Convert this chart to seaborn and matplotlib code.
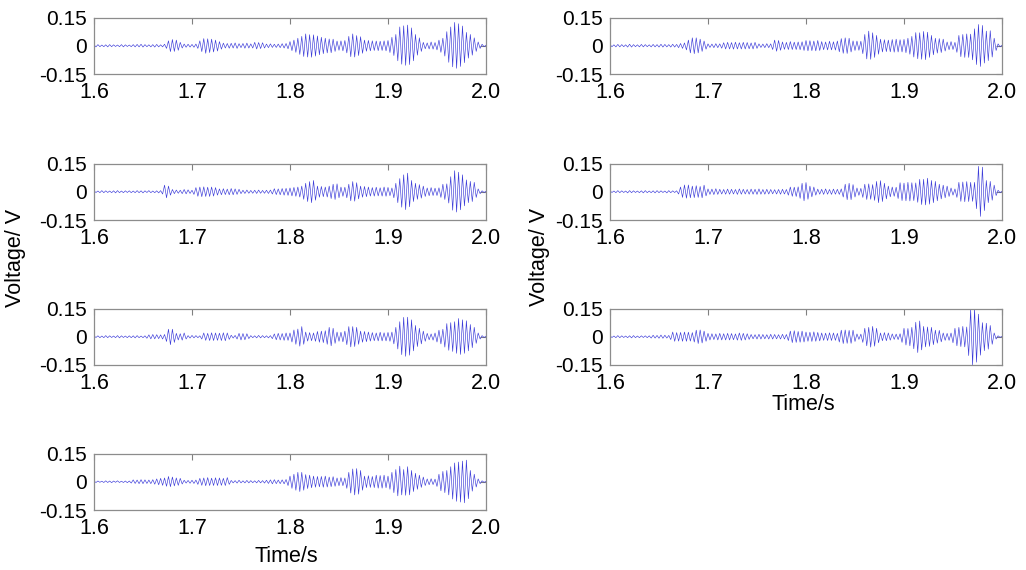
import numpy as np
import matplotlib
matplotlib.use("Agg")
import matplotlib.pyplot as plt
import seaborn as sns

# signal peaks in mV, one value every 2 ms from 1.6 s to 2.0 s
ch1 = [5, -6, 6, -5, 4, -5, 5, -6, 6, -5, 5, -4, 4, -5, 6, -6, 5, -4, 4, -5,
       6, -6, 7, -6, 8, -7, 6, -5, 5, -6, 6, -7, 7, -6, 5, -6, 8, -14, 26, -31,
       33, -30, 30, -24, 18, -12, 9, -8, 8, -7, 7, -8, 9, -14, 26, -31, 38, -40, 37, -36,
       35, -33, 30, -28, 22, -18, 14, -12, 12, -13, 13, -12, 15, -14, 11, -10, 12, -13, 14, -12,
       10, -12, 18, -17, 17, -15, 16, -12, 9, -10, 10, -9, 8, -9, 9, -10, 11, -12, 12, -16,
       22, -26, 30, -35, 40, -46, 50, -57, 63, -60, 59, -61, 58, -55, 52, -48, 45, -42, 40, -38,
       36, -37, 35, -30, 25, -24, 26, -27, 28, -38, 50, -58, 63, -60, 54, -52, 48, -40, 30, -29,
       28, -27, 26, -25, 25, -26, 24, -25, 26, -27, 28, -36, 45, -52, 60, -80, 100, -98, 106, -104,
       110, -100, 95, -80, 60, -50, 42, -30, 18, -16, 15, -17, 20, -18, 17, -22, 30, -35, 40, -55,
       75, -88, 100, -112, 124, -120, 117, -110, 105, -90, 71, -66, 60, -50, 42, -30, 20, -14, 8, -5,
       3]
ch2 = [5, -4, 4, -5, 6, -5, 5, -4, 4, -5, 5, -6, 6, -5, 4, -5, 5, -4, 5, -5,
       4, -5, 6, -5, 5, -6, 5, -4, 6, -5, 4, -5, 5, -6, 6, -12, 35, -32, 30, -18,
       12, -10, 9, -8, 8, -10, 12, -11, 10, -9, 8, -14, 22, -24, 25, -26, 26, -25, 24, -25,
       25, -23, 22, -18, 15, -16, 16, -15, 14, -16, 17, -16, 15, -14, 13, -10, 8, -9, 9, -8,
       7, -8, 8, -9, 9, -8, 7, -8, 8, -9, 9, -12, 16, -15, 15, -16, 17, -18, 18, -19,
       20, -22, 23, -24, 25, -28, 30, -40, 45, -52, 54, -58, 60, -45, 30, -29, 28, -26, 25, -28,
       30, -36, 40, -41, 42, -32, 25, -24, 24, -32, 40, -48, 54, -50, 48, -38, 30, -29, 28, -26,
       25, -23, 22, -23, 24, -22, 21, -23, 25, -24, 23, -21, 20, -32, 45, -58, 70, -82, 90, -95,
       99, -80, 60, -52, 45, -40, 38, -34, 30, -25, 20, -21, 22, -20, 19, -20, 21, -30, 40, -41,
       42, -60, 80, -98, 112, -108, 104, -96, 90, -75, 63, -58, 55, -52, 50, -30, 15, -10, 5, -4,
       3]
ch3 = [5, -4, 5, -5, 4, -5, 6, -5, 5, -4, 4, -5, 6, -6, 5, -4, 4, -5, 5, -5,
       5, -6, 6, -5, 4, -5, 5, -8, 10, -11, 12, -11, 11, -10, 10, -12, 12, -25, 40, -42,
       40, -30, 18, -17, 16, -18, 20, -12, 6, -7, 7, -6, 6, -5, 5, -12, 20, -19, 18, -20,
       21, -20, 20, -19, 19, -20, 21, -21, 20, -14, 8, -7, 7, -12, 18, -17, 17, -16, 16, -10,
       6, -5, 5, -6, 7, -6, 6, -5, 5, -6, 6, -10, 15, -16, 18, -17, 17, -19, 20, -19,
       20, -28, 36, -40, 41, -50, 54, -40, 25, -23, 22, -21, 20, -24, 28, -29, 30, -31, 32, -40,
       50, -48, 45, -35, 25, -24, 24, -27, 30, -42, 54, -54, 54, -52, 50, -40, 30, -29, 28, -26,
       25, -23, 22, -21, 20, -22, 24, -22, 21, -22, 23, -24, 25, -38, 50, -65, 80, -95, 103, -104,
       104, -98, 90, -75, 60, -52, 45, -38, 30, -24, 18, -16, 15, -18, 20, -28, 35, -38, 40, -55,
       70, -72, 75, -78, 80, -88, 97, -94, 90, -88, 85, -75, 65, -58, 50, -35, 20, -12, 6, -4,
       3]
ch4 = [4, -4, 4, -3, 3, -4, 5, -4, 4, -5, 4, -3, 5, -4, 3, -4, 4, -5, 4, -7,
       10, -9, 9, -10, 11, -10, 10, -9, 9, -10, 11, -13, 15, -16, 18, -19, 20, -24, 28, -26,
       25, -22, 20, -19, 18, -12, 8, -7, 7, -8, 8, -9, 9, -14, 18, -19, 20, -21, 22, -20,
       19, -20, 21, -20, 20, -19, 18, -20, 22, -14, 7, -6, 6, -7, 8, -6, 5, -6, 7, -6,
       6, -5, 5, -6, 7, -6, 6, -7, 8, -9, 10, -11, 11, -10, 9, -10, 10, -11, 12, -20,
       30, -35, 40, -45, 50, -52, 50, -45, 38, -36, 35, -32, 30, -29, 28, -27, 28, -29, 30, -28,
       25, -26, 27, -24, 20, -21, 22, -21, 20, -35, 50, -60, 68, -70, 70, -66, 60, -45, 30, -31,
       32, -30, 28, -31, 35, -34, 33, -34, 35, -32, 30, -40, 50, -58, 65, -75, 83, -70, 65, -72,
       80, -70, 60, -52, 45, -40, 35, -30, 25, -20, 15, -16, 16, -15, 14, -25, 40, -48, 55, -58,
       60, -70, 80, -92, 100, -104, 105, -108, 110, -112, 115, -90, 60, -50, 40, -28, 15, -10, 5, -3,
       2]
ch5 = [6, -5, 5, -6, 7, -6, 6, -5, 5, -7, 8, -7, 6, -5, 5, -6, 7, -6, 6, -5,
       5, -6, 7, -6, 6, -7, 8, -7, 7, -6, 6, -7, 8, -7, 7, -10, 12, -14, 15, -22,
       30, -38, 42, -42, 42, -38, 35, -30, 25, -18, 10, -9, 9, -10, 11, -10, 10, -13, 16, -17,
       18, -17, 17, -18, 19, -17, 16, -17, 18, -17, 17, -16, 15, -17, 18, -14, 10, -9, 9, -10,
       11, -10, 10, -20, 30, -29, 28, -24, 20, -19, 18, -20, 22, -20, 19, -20, 20, -21, 21, -25,
       28, -27, 27, -26, 25, -27, 28, -25, 22, -21, 20, -22, 24, -22, 21, -23, 25, -32, 38, -40,
       42, -41, 40, -33, 26, -25, 25, -24, 24, -42, 60, -70, 78, -72, 69, -62, 55, -45, 35, -33,
       32, -31, 30, -32, 33, -34, 35, -33, 32, -33, 34, -37, 40, -45, 50, -60, 70, -69, 69, -72,
       76, -74, 72, -62, 55, -48, 40, -39, 38, -36, 35, -28, 20, -21, 22, -20, 18, -35, 55, -58,
       60, -62, 63, -62, 62, -75, 90, -100, 113, -110, 108, -92, 78, -79, 80, -60, 40, -25, 10, -6,
       3]
ch6 = [5, -4, 4, -5, 6, -5, 5, -4, 4, -6, 6, -5, 5, -4, 4, -5, 5, -6, 6, -5,
       4, -5, 5, -6, 6, -5, 5, -4, 4, -6, 6, -5, 5, -4, 5, -12, 25, -30, 36, -34,
       36, -32, 30, -31, 32, -30, 28, -32, 35, -22, 15, -14, 14, -15, 16, -14, 13, -12, 12, -13,
       14, -13, 13, -12, 12, -14, 15, -13, 13, -12, 12, -13, 14, -13, 13, -14, 15, -13, 12, -13,
       13, -12, 12, -11, 11, -12, 12, -13, 13, -12, 12, -18, 25, -24, 24, -25, 26, -35, 45, -48,
       49, -40, 30, -27, 25, -18, 14, -13, 13, -14, 15, -13, 12, -14, 14, -13, 13, -14, 15, -28,
       40, -42, 45, -42, 38, -28, 20, -19, 18, -30, 40, -41, 42, -40, 38, -46, 55, -58, 59, -52,
       45, -38, 30, -27, 25, -24, 24, -36, 48, -47, 46, -48, 50, -49, 48, -47, 47, -56, 66, -68,
       66, -70, 72, -66, 60, -58, 55, -48, 40, -38, 35, -32, 30, -25, 20, -18, 15, -30, 50, -51,
       52, -53, 54, -52, 50, -51, 50, -90, 135, -131, 131, -100, 60, -58, 55, -45, 35, -20, 8, -5,
       3]
ch7 = [5, -4, 4, -5, 6, -5, 5, -4, 4, -5, 5, -6, 6, -5, 4, -5, 5, -4, 5, -5,
       5, -7, 8, -7, 7, -8, 9, -8, 8, -7, 7, -15, 25, -24, 22, -23, 23, -24, 25, -24,
       24, -23, 22, -28, 35, -36, 36, -33, 30, -24, 18, -17, 16, -15, 15, -17, 18, -17, 16, -17,
       18, -17, 17, -16, 15, -18, 20, -19, 18, -17, 16, -14, 12, -11, 11, -12, 13, -12, 12, -11,
       11, -12, 13, -12, 12, -11, 11, -12, 13, -12, 12, -20, 30, -31, 32, -30, 28, -29, 30, -28,
       25, -24, 24, -25, 26, -24, 23, -22, 20, -19, 19, -20, 21, -20, 20, -19, 18, -28, 35, -36,
       36, -35, 34, -35, 35, -25, 15, -14, 14, -30, 45, -48, 50, -55, 55, -50, 45, -32, 20, -21,
       22, -21, 20, -18, 15, -14, 14, -15, 16, -30, 45, -44, 44, -48, 50, -64, 77, -84, 84, -70,
       55, -54, 52, -51, 50, -42, 35, -34, 34, -27, 20, -19, 18, -19, 20, -32, 45, -48, 50, -52,
       55, -54, 52, -100, 145, -150, 150, -135, 120, -98, 75, -74, 72, -66, 60, -40, 20, -12, 5, -3,
       2]

x_ticks = [1.6, 1.7, 1.8, 1.9, 2.0]
x_tick_labels = ["1.6", "1.7", "1.8", "1.9", "2.0"]
y_ticks = [-0.15, 0, 0.15]
y_tick_labels = ["-0.15", "0", "0.15"]

sns.set_style("white")
plt.rcParams["font.family"] = ["Liberation Sans", "DejaVu Sans"]
plt.rcParams["text.color"] = "black"

fig = plt.figure(figsize=(10.26, 5.70), dpi=100)

# panel boxes in figure fraction
left_col, right_col = 94 / 1026, 610 / 1026
w, h = 392 / 1026, 56.5 / 570
rows = [1 - 74 / 570, 1 - 220 / 570, 1 - 365 / 570, 1 - 510 / 570]
panels = [
    (ch1, left_col, rows[0]),
    (ch2, left_col, rows[1]),
    (ch3, left_col, rows[2]),
    (ch4, left_col, rows[3]),
    (ch5, right_col, rows[0]),
    (ch6, right_col, rows[1]),
    (ch7, right_col, rows[2]),
]

for values, x0, y0 in panels:
    ax = fig.add_axes([x0, y0, w, h])
    v = np.array(values) / 1000.0
    t = np.linspace(1.6, 2.0, len(v))
    sns.lineplot(x=t, y=v, ax=ax, color="#3b3bd9", linewidth=0.45)
    ax.set_xlim(1.6, 2.0)
    ax.set_ylim(-0.15, 0.15)
    ax.set_xticks(x_ticks)
    ax.set_xticklabels(x_tick_labels, fontsize=15.5)
    ax.set_yticks(y_ticks)
    ax.set_yticklabels(y_tick_labels, fontsize=15)
    ax.tick_params(direction="in", length=4, color="#808080", width=0.8,
                   labelcolor="black", top=True, right=True)
    ax.tick_params(axis="x", pad=6)
    ax.tick_params(axis="y", pad=5)
    for s in ax.spines.values():
        s.set_color("#8c8c8c")
        s.set_linewidth(0.9)
    ax.set_xlabel("")
    ax.set_ylabel("")

fig.text(16 / 1026, 1 - 258 / 570, "Voltage/ V", rotation=90,
         ha="center", va="center", fontsize=15.5)
fig.text(540 / 1026, 1 - 257 / 570, "Voltage/ V", rotation=90,
         ha="center", va="center", fontsize=15.5)
fig.text(286 / 1026, 1 - 556 / 570, "Time/s", ha="center", va="center",
         fontsize=15.5)
fig.text(803 / 1026, 1 - 405 / 570, "Time/s", ha="center", va="center",
         fontsize=15.5)

fig.savefig("out.png", dpi=100)
